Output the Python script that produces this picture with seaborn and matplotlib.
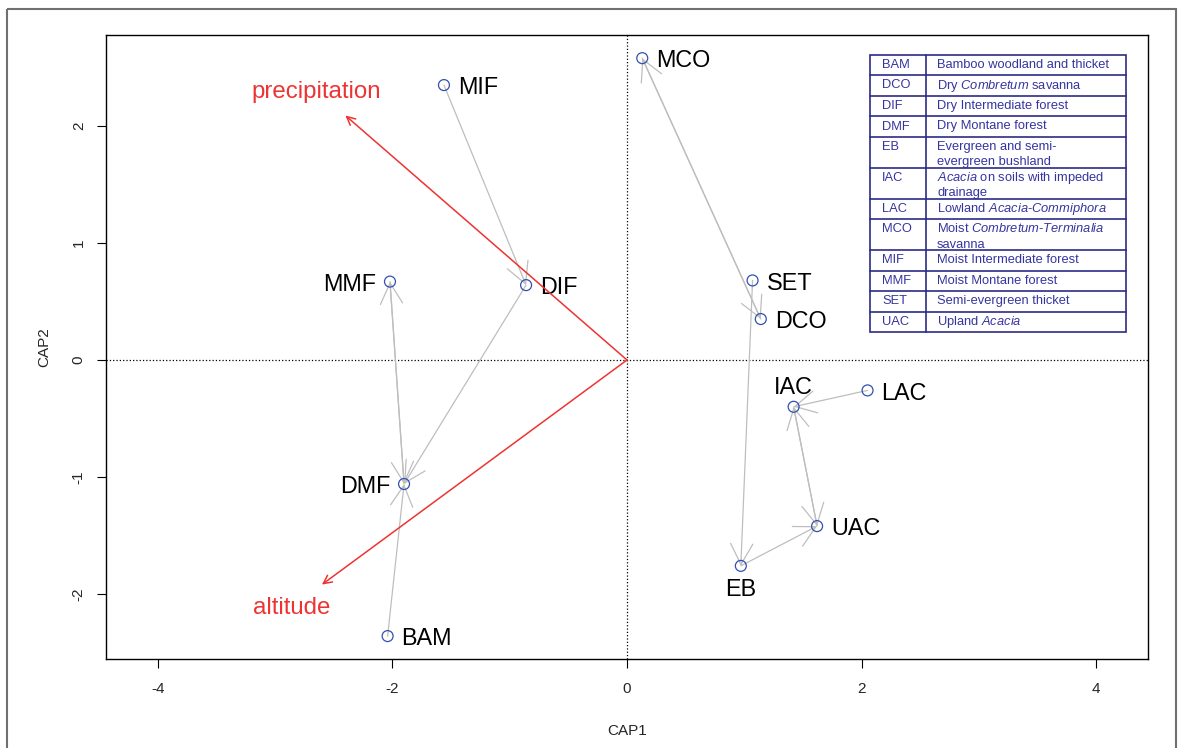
import numpy as np
import pandas as pd
import seaborn as sns
import matplotlib
matplotlib.use('Agg')
import matplotlib.pyplot as plt
import matplotlib.transforms as mtransforms
from matplotlib.patches import Rectangle
from matplotlib.lines import Line2D

# 数据：各植被类型在 CAP1/CAP2 上的坐标
sites = ['MCO', 'MIF', 'MMF', 'DIF', 'SET', 'DCO', 'IAC', 'LAC', 'DMF', 'UAC', 'EB', 'BAM']
cap1 = [0.13, -1.56, -2.02, -0.86, 1.07, 1.14, 1.42, 2.05, -1.90, 1.62, 0.97, -2.04]
cap2 = [2.58, 2.35, 0.67, 0.64, 0.68, 0.35, -0.40, -0.26, -1.06, -1.42, -1.76, -2.36]

# 灰色箭头：起点 -> 终点
arrow_from = ['MIF', 'DIF', 'MMF', 'DMF', 'BAM', 'MCO', 'DCO', 'SET', 'EB', 'UAC', 'IAC', 'LAC']
arrow_to = ['DIF', 'DMF', 'DMF', 'MMF', 'DMF', 'DCO', 'MCO', 'EB', 'UAC', 'IAC', 'UAC', 'IAC']

# 环境变量向量
env_names = ['precipitation', 'altitude']
env_x = [-2.40, -2.60]
env_y = [2.09, -1.92]

# 图例表
table_codes = ['BAM', 'DCO', 'DIF', 'DMF', 'EB', 'IAC', 'LAC', 'MCO', 'MIF', 'MMF', 'SET', 'UAC']
table_desc = [
    ['Bamboo woodland and thicket'],
    ['Dry $\\mathit{Combretum}$ savanna'],
    ['Dry Intermediate forest'],
    ['Dry Montane forest'],
    ['Evergreen and semi-', 'evergreen bushland'],
    ['$\\mathit{Acacia}$ on soils with impeded', 'drainage'],
    ['Lowland $\\mathit{Acacia}$-$\\mathit{Commiphora}$'],
    ['Moist $\\mathit{Combretum}$-$\\mathit{Terminalia}$', 'savanna'],
    ['Moist Intermediate forest'],
    ['Moist Montane forest'],
    ['Semi-evergreen thicket'],
    ['Upland $\\mathit{Acacia}$'],
]

# 标签位置
label_side = {'MMF': 'left', 'DMF': 'left', 'IAC': 'above', 'EB': 'below'}
env_label_off = {'precipitation': (-21, 17), 'altitude': (-22, -17)}

sns.set_style('white')
plt.rcParams['font.family'] = ['Liberation Sans', 'DejaVu Sans']
plt.rcParams['mathtext.fontset'] = 'custom'
plt.rcParams['mathtext.rm'] = 'Liberation Sans'
plt.rcParams['mathtext.it'] = 'Liberation Sans:italic'
plt.rcParams['axes.unicode_minus'] = False

W, H = 1178, 748
fig = plt.figure(figsize=(W / 100, H / 100), dpi=100)
ax = fig.add_axes([106 / W, 1 - 659 / H, (1148 - 106) / W, (659 - 35) / H])

df = pd.DataFrame({'site': sites, 'CAP1': cap1, 'CAP2': cap2})
pos = {s: (x, y) for s, x, y in zip(sites, cap1, cap2)}

ax.axhline(0, color='black', ls=':', lw=0.9, zorder=1)
ax.axvline(0, color='black', ls=':', lw=0.9, zorder=1)

# 灰色箭头
for a, b in zip(arrow_from, arrow_to):
    ax.annotate('', xy=pos[b], xytext=pos[a],
                arrowprops=dict(arrowstyle='->,head_length=1.5,head_width=0.8',
                                color='#BEBEBE', lw=0.9, shrinkA=0, shrinkB=0),
                zorder=2)

sns.scatterplot(data=df, x='CAP1', y='CAP2', ax=ax, marker='o', s=62,
                color='none', edgecolor='#3350B0', linewidth=0.9, zorder=3)
ax.collections[-1].set_facecolor('none')

for s, x, y in zip(sites, cap1, cap2):
    side = label_side.get(s, 'right')
    if side == 'right':
        off, ha = (10, -2), 'left'
    elif side == 'left':
        off, ha = (-10, -2), 'right'
    elif side == 'above':
        off, ha = (0, 14), 'center'
    else:
        off, ha = (0, -17), 'center'
    ax.annotate(s, (x, y), xytext=off, textcoords='offset points',
                ha=ha, va='center', fontsize=16.8, color='black')

# 环境向量（红色）
red = '#EE3333'
for name, x, y in zip(env_names, env_x, env_y):
    ax.annotate('', xy=(x, y), xytext=(0, 0),
                arrowprops=dict(arrowstyle='->,head_length=0.6,head_width=0.3',
                                color=red, lw=1.1, shrinkA=0, shrinkB=0),
                zorder=4)
    ax.annotate(name, (x, y), xytext=env_label_off[name], textcoords='offset points',
                color=red, fontsize=17.3, ha='center', va='center')

ax.set_xlim(-4.44, 4.44)
ax.set_ylim(-2.556, 2.778)
ax.set_xticks([-4, -2, 0, 2, 4])
ax.set_yticks([-2, -1, 0, 1, 2])
ax.tick_params(direction='out', length=6.5, width=0.8, labelsize=11,
               bottom=True, left=True, color='black')
ax.tick_params(axis='x', pad=10)
ax.tick_params(axis='y', pad=8)
plt.setp(ax.get_yticklabels(), rotation=90, va='center')
ax.set_xlabel('CAP1', fontsize=11, labelpad=20)
ax.set_ylabel('CAP2', fontsize=11, labelpad=15)
for sp in ax.spines.values():
    sp.set_color('black')
    sp.set_linewidth(1.0)

# 图例表（像素坐标）
px = mtransforms.Affine2D().scale(1 / W, -1 / H).translate(0, 1) + fig.transFigure
tab_col = '#2B2B88'
txt_col = '#3535A0'
x0, xm, x1 = 870, 926, 1126
y = 55
row_edges = [y]
for d in table_desc:
    y += 20.5 if len(d) == 1 else 31
    row_edges.append(y)
fig.add_artist(Rectangle((x0, row_edges[0]), x1 - x0, row_edges[-1] - row_edges[0],
                         transform=px, facecolor='white', edgecolor=tab_col, lw=1.2,
                         zorder=10))
fig.add_artist(Line2D([xm, xm], [row_edges[0], row_edges[-1]], transform=px,
                      color=tab_col, lw=1.2, zorder=11))
for ye in row_edges[1:-1]:
    fig.add_artist(Line2D([x0, x1], [ye, ye], transform=px, color=tab_col, lw=1.2, zorder=11))
for code, desc, top in zip(table_codes, table_desc, row_edges[:-1]):
    fig.text(882, top + 13, code, transform=px, fontsize=9.3, color=txt_col,
             ha='left', va='baseline', zorder=12)
    for i, line in enumerate(desc):
        fig.text(937, top + 13 + 15 * i, line, transform=px, fontsize=9.3,
                 color=txt_col, ha='left', va='baseline', zorder=12)

# 外框
fig.add_artist(Rectangle((7, 9), 1169, 760, transform=px, fill=False,
                         edgecolor='#707070', lw=1.5, clip_on=False))

fig.savefig('out.png', dpi=100)
